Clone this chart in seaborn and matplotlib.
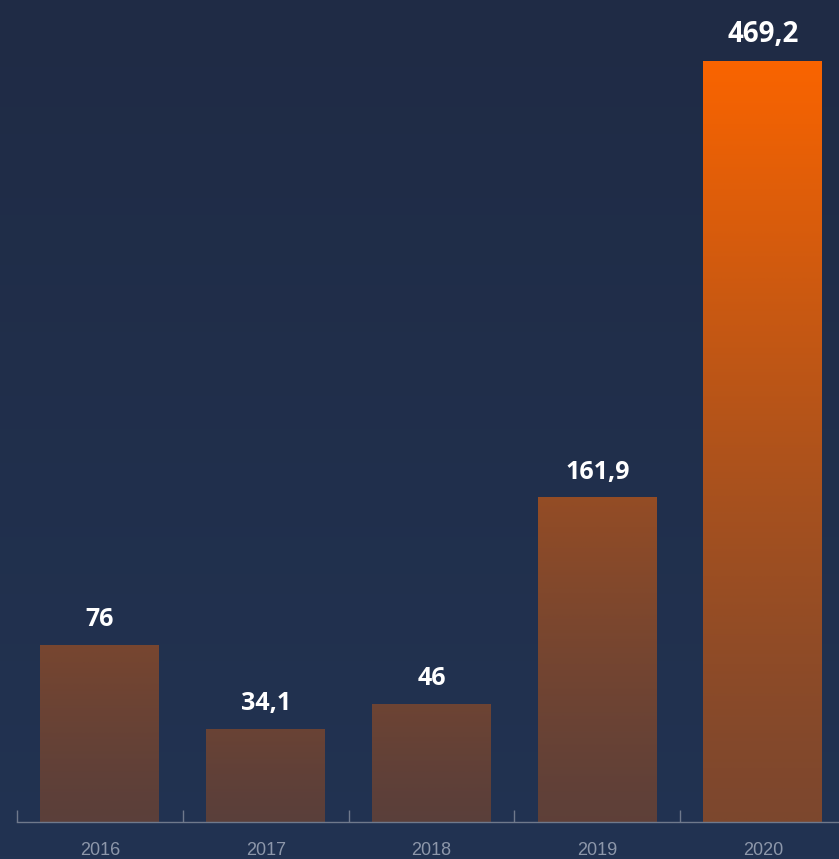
import numpy as np
import pandas as pd
import matplotlib
matplotlib.use("Agg")
import matplotlib.pyplot as plt
from matplotlib.colors import to_rgb
import seaborn as sns

# Values per year
years = ["2016", "2017", "2018", "2019", "2020"]
values = [76, 34.1, 46, 161.9, 469.2]

df = pd.DataFrame({"year": years, "value": values})

sns.set_theme(style="white")
plt.rcParams["font.family"] = ["Open Sans", "DejaVu Sans"]

W, H, DPI = 839, 859, 100
fig = plt.figure(figsize=(W / DPI, H / DPI), dpi=DPI)

# Navy background gradient over the whole figure
bg_top = np.array(to_rgb("#1f2b45"))
bg_bot = np.array(to_rgb("#223352"))
t = np.linspace(0, 1, 256)[:, None]
bg = bg_top * (1 - t) + bg_bot * t
bg_ax = fig.add_axes([0, 0, 1, 1], zorder=-10)
bg_ax.imshow(bg[:, None, :].repeat(2, axis=1), aspect="auto", extent=[0, 1, 0, 1])
bg_ax.set_axis_off()

# Plot area: baseline at y=822 px, category band starts at x=17 px
left = 17 / W
bottom = (H - 822) / H
ax = fig.add_axes([left, bottom, 829 / W, 822 / H])
ax.patch.set_alpha(0)

# Compressed (power) value scale so the small years stay readable
POW = 0.8
ax.set_yscale("function",
              functions=(lambda v: np.sign(v) * np.abs(v) ** POW,
                         lambda u: np.sign(u) * np.abs(u) ** (1 / POW)))

sns.barplot(data=df, x="year", y="value", width=0.72, ax=ax, color="#fa6400")

vmax = max(values)
ymax = vmax * (822 / 762) ** (1 / POW)
ax.set_xlim(-0.5, 4.5)
ax.set_ylim(0, ymax)

orange = np.array(to_rgb("#fa6400"))
bg_mid = np.array(to_rgb("#22324f"))

def blend(a):
    return orange * a + bg_mid * (1 - a)

# Replace each flat bar with a vertical gradient
for patch, v in zip(ax.patches, values):
    r = v / vmax
    top_c = blend(0.28 + 0.72 * r)
    bot_c = blend(0.26 + 0.16 * r ** 2)
    g = np.linspace(0, 1, 256)[:, None]
    grad = top_c * (1 - g) + bot_c * g
    x0 = patch.get_x()
    w = patch.get_width()
    ax.imshow(grad[:, None, :].repeat(2, axis=1), aspect="auto",
              extent=[x0, x0 + w, 0, v], zorder=2, interpolation="bicubic")
    patch.set_visible(False)
    # Value label above the bar, decimal comma
    label = f"{v:g}".replace(".", ",")
    size = 20 if v == vmax else 18
    ax.annotate(label, (x0 + w / 2, v), xytext=(0, 13),
                textcoords="offset points", ha="center", va="baseline",
                color="white", fontsize=size, fontweight="bold", zorder=5)

ax.set_xlim(-0.5, 4.5)
ax.set_ylim(0, ymax)

# Axis styling: only the baseline with boundary ticks
for s in ["top", "right", "left"]:
    ax.spines[s].set_visible(False)
ax.spines["bottom"].set_color("#6f798c")
ax.spines["bottom"].set_linewidth(1)
ax.set_yticks([])
ax.set_yticks([], minor=True)
ax.set_xticks(np.arange(-0.5, 4.5, 1.0))
ax.set_xticklabels([])
ax.tick_params(axis="x", direction="in", length=9, width=1, color="#6f798c", bottom=True)
ax.set_xlabel("")
ax.set_ylabel("")

# Year labels centred under each bar
for i, yr in enumerate(years):
    ax.annotate(yr, (i, 0), xycoords=("data", "axes fraction"),
                xytext=(0, -20.5), textcoords="offset points",
                ha="center", va="center", color="#8d97aa", fontsize=13,
                family=["Liberation Sans", "DejaVu Sans"],
                annotation_clip=False)

fig.savefig("out.png", dpi=DPI)
